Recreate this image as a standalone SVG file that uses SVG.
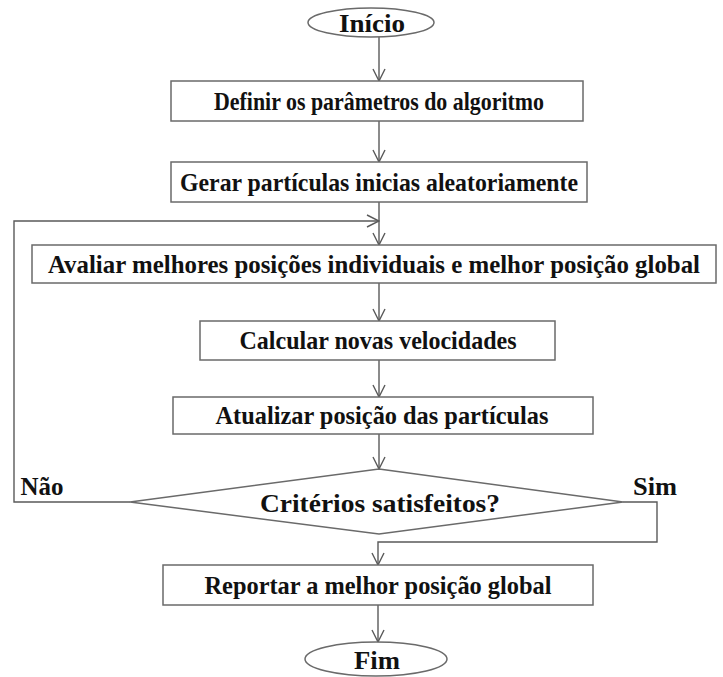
<svg xmlns="http://www.w3.org/2000/svg" width="723" height="677" viewBox="0 0 723 677">
  <style>
    .box { fill: #ffffff; stroke: #6a6a6a; stroke-width: 1.5; }
    .lbl { font-family: "Liberation Serif", "Times New Roman", serif; font-weight: bold; font-size: 26px; fill: #111111; text-anchor: middle; }
    .edge { fill: none; stroke: #5a5a5a; stroke-width: 1.4; }
  </style>
  <defs>
    <marker id="arrow" markerWidth="14" markerHeight="14" refX="13" refY="7" orient="auto" markerUnits="userSpaceOnUse">
      <path d="M1,1 L13,7 L1,13" fill="none" stroke="#5a5a5a" stroke-width="1.4"/>
    </marker>
  </defs>
  <rect width="723" height="677" fill="#ffffff"/>

  <g id="connectors">
    <line class="edge" x1="379" y1="37" x2="379" y2="81" marker-end="url(#arrow)"/>
    <line class="edge" x1="379" y1="121" x2="379" y2="162" marker-end="url(#arrow)"/>
    <line class="edge" x1="379" y1="202" x2="379" y2="245" marker-end="url(#arrow)"/>
    <polyline class="edge" points="130,502 14,502 14,221 379,221" marker-end="url(#arrow)"/>
    <line class="edge" x1="379" y1="283" x2="379" y2="321" marker-end="url(#arrow)"/>
    <line class="edge" x1="379" y1="360" x2="379" y2="397" marker-end="url(#arrow)"/>
    <line class="edge" x1="379" y1="434" x2="379" y2="469" marker-end="url(#arrow)"/>
    <polyline class="edge" points="623,502 657,502 657,542 378,542 378,565" marker-end="url(#arrow)"/>
    <line class="edge" x1="378" y1="605" x2="378" y2="642" marker-end="url(#arrow)"/>
  </g>

  <g id="inicio">
    <ellipse class="box" cx="371" cy="22.5" rx="63" ry="14.5"/>
    <text class="lbl" x="372" y="32" font-size="29" textLength="66" lengthAdjust="spacingAndGlyphs">Início</text>
  </g>

  <g id="definir">
    <rect class="box" x="171" y="81" width="412" height="40"/>
    <text class="lbl" x="379" y="110" textLength="330" lengthAdjust="spacingAndGlyphs">Definir os parâmetros do algoritmo</text>
  </g>

  <g id="gerar">
    <rect class="box" x="171" y="162" width="416" height="40"/>
    <text class="lbl" x="379" y="191" textLength="398" lengthAdjust="spacingAndGlyphs">Gerar partículas inicias aleatoriamente</text>
  </g>

  <g id="avaliar">
    <rect class="box" x="32" y="245" width="684" height="38"/>
    <text class="lbl" x="374" y="273" textLength="652" lengthAdjust="spacingAndGlyphs">Avaliar melhores posições individuais e melhor posição global</text>
  </g>

  <g id="calcular">
    <rect class="box" x="200" y="321" width="355" height="39"/>
    <text class="lbl" x="378" y="349" textLength="277" lengthAdjust="spacingAndGlyphs">Calcular novas velocidades</text>
  </g>

  <g id="atualizar">
    <rect class="box" x="173" y="397" width="420" height="37"/>
    <text class="lbl" x="382" y="424" textLength="333" lengthAdjust="spacingAndGlyphs">Atualizar posição das partículas</text>
  </g>

  <g id="criterios">
    <polygon class="box" points="379,469 623,502 379,534 130,502"/>
    <text class="lbl" x="380" y="512" textLength="240" lengthAdjust="spacingAndGlyphs">Critérios satisfeitos?</text>
    <text class="lbl" x="42" y="495" textLength="43" lengthAdjust="spacingAndGlyphs">Não</text>
    <text class="lbl" x="655" y="495" textLength="44" lengthAdjust="spacingAndGlyphs">Sim</text>
  </g>

  <g id="reportar">
    <rect class="box" x="163" y="565" width="430" height="40"/>
    <text class="lbl" x="378" y="594" textLength="347" lengthAdjust="spacingAndGlyphs">Reportar a melhor posição global</text>
  </g>

  <g id="fim">
    <ellipse class="box" cx="376" cy="659" rx="71" ry="17"/>
    <text class="lbl" x="377" y="669" font-size="29" textLength="46" lengthAdjust="spacingAndGlyphs">Fim</text>
  </g>
</svg>
